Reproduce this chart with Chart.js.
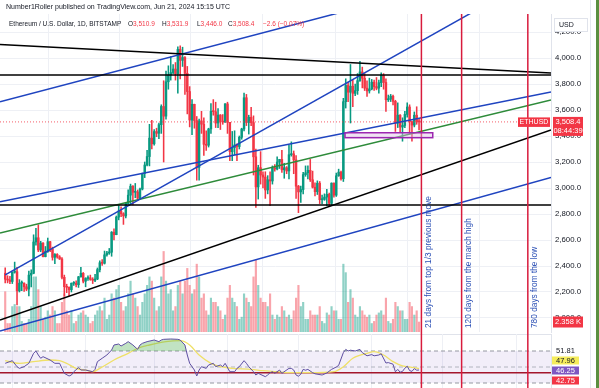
<!DOCTYPE html>
<html>
<head>
<meta charset="utf-8">
<script src="https://cdn.jsdelivr.net/npm/chart.js"></script>
<style>
html,body{margin:0;padding:0;background:#fff;overflow:hidden;}
#wrap{position:relative;width:599px;height:388px;background:#fff;}
#main{position:absolute;left:0;top:0;}
#rsi{position:absolute;left:0;top:334px;}
#rline{position:absolute;left:590px;top:0;width:1px;height:388px;background:#e6e8ee;}
#edge{position:absolute;left:596px;top:0;width:3px;height:388px;background:#5b8f3f;}
</style>
</head>
<body>
<div id="wrap">
<canvas id="main" width="599" height="334"></canvas>
<canvas id="rsi" width="599" height="54"></canvas>
<div id="rline"></div><div id="edge"></div>
</div>
<script>
// ===== DATA (day 0 = Jan 1, 2024; first candle = Dec 29, 2023) =====
const firstDay = -3;
const opens = [
2345,2298,2292,2281,2352,2356,2209,2268,2268,2240,
2222,2330,2344,2585,2617,2523,2576,2472,2512,2587,
2530,2467,2489,2470,2454,2313,2241,2236,2218,2267,
2268,2256,2317,2344,2283,2304,2309,2296,2290,2300,
2372,2425,2421,2486,2500,2506,2660,2641,2776,2823,
2802,2785,2881,2945,3014,2967,2970,2922,2992,3113,
3177,3242,3384,3340,3434,3421,3487,3627,3553,3817,
3869,3888,3915,3879,4066,3982,4004,3882,3742,3523,
3644,3519,3158,3516,3491,3336,3329,3454,3590,3587,
3500,3561,3512,3507,3647,3505,3279,3311,3331,3319,
3390,3454,3694,3504,3544,3503,3240,3008,3156,3100,
3084,2985,3063,3054,3156,3146,3200,3220,3140,3156,
3131,3256,3263,3216,3014,2970,2988,3103,3117,3136,
3063,3006,2972,3037,2910,2912,2930,2951,2882,3037,
2945,3094,3122,3071,3664,3789,3737,3783,3728,3749,
3826,3893,3844,3768,3747,3762,3814,3780,3768,3810,
3866,3812,3679,3683,3706,3667,3499,3560,3469,3481,
3566,3623,3510,3484,3560,3510.9];
const highs = [
2385,2325,2320,2355,2430,2390,2295,2285,2270,2260,
2360,2370,2640,2690,2717,2590,2580,2550,2615,2590,
2545,2495,2495,2480,2465,2330,2260,2240,2270,2280,
2285,2320,2390,2350,2310,2325,2330,2310,2335,2385,
2440,2450,2515,2512,2535,2665,2685,2785,2865,2855,
2810,2890,2985,3030,3018,3035,2985,3000,3115,3200,
3290,3490,3520,3450,3460,3500,3640,3825,3900,3940,
4010,3950,3965,4085,4093,4083,4010,3935,3780,3680,
3645,3550,3530,3590,3540,3440,3460,3650,3680,3660,
3610,3565,3565,3650,3660,3505,3435,3440,3340,3400,
3460,3730,3720,3560,3620,3555,3300,3175,3280,3125,
3125,3095,3125,3170,3180,3240,3220,3290,3190,3165,
3330,3355,3285,3250,3020,3015,3120,3170,3170,3220,
3130,3040,3055,3050,2945,2955,2990,2960,3040,3040,
3115,3145,3130,3690,3840,3815,3950,3830,3800,3880,
3975,3930,3880,3825,3845,3835,3830,3850,3830,3885,
3880,3840,3715,3720,3715,3675,3655,3565,3540,3590,
3655,3640,3515,3585,3625,3531.9];
const lows = [
2270,2270,2265,2265,2345,2100,2200,2210,2205,2210,
2170,2240,2340,2560,2510,2510,2470,2470,2505,2510,
2445,2418,2460,2450,2300,2168,2195,2170,2200,2250,
2240,2235,2315,2270,2240,2290,2290,2265,2280,2295,
2355,2405,2415,2475,2490,2475,2600,2640,2755,2780,
2720,2770,2875,2880,2870,2925,2905,2915,2985,3080,
3170,3170,3300,3330,3395,3380,3420,3200,3530,3760,
3830,3880,3830,3730,3840,3935,3720,3570,3470,3410,
3460,3060,3060,3420,3250,3290,3315,3420,3560,3465,
3465,3450,3490,3505,3420,3210,3210,3255,3210,3300,
3375,3440,3480,3415,3480,3100,2850,2915,3030,3000,
2920,2955,2865,3030,3130,3140,3150,3120,3075,3110,
3070,3245,3110,2920,2810,2890,2955,3090,3070,3050,
3000,2940,2950,2880,2880,2905,2865,2860,2865,2930,
2935,3090,3060,3050,3615,3665,3500,3625,3710,3720,
3820,3770,3750,3705,3730,3755,3750,3755,3730,3780,
3760,3590,3665,3665,3640,3435,3465,3430,3360,3465,
3545,3420,3360,3470,3490,3446.0];
const closes = [
2298,2292,2281,2352,2356,2209,2268,2268,2240,2222,
2330,2344,2585,2617,2523,2576,2472,2512,2587,2530,
2467,2489,2470,2454,2313,2241,2236,2218,2267,2268,
2256,2317,2344,2283,2304,2309,2296,2290,2300,2372,
2425,2421,2486,2500,2506,2660,2641,2776,2823,2802,
2785,2881,2945,3014,2967,2970,2922,2992,3113,3177,
3242,3384,3340,3434,3421,3487,3627,3553,3817,3869,
3888,3915,3879,4066,3982,4004,3882,3742,3523,3644,
3519,3158,3516,3491,3336,3329,3454,3590,3587,3500,
3561,3512,3507,3647,3505,3279,3311,3331,3319,3390,
3454,3694,3504,3544,3503,3240,3008,3156,3100,3084,
2985,3063,3054,3156,3146,3200,3220,3140,3156,3131,
3256,3263,3216,3014,2970,2988,3103,3117,3136,3063,
3006,2972,3037,2910,2912,2930,2951,2882,3037,2945,
3094,3122,3071,3664,3789,3737,3783,3728,3749,3826,
3893,3844,3768,3747,3762,3814,3780,3768,3810,3866,
3812,3679,3683,3706,3667,3499,3560,3469,3481,3566,
3623,3510,3484,3560,3511,3508.4];
const volumesK = [
9.5,2,2,6,6.5,6,6,2.5,2,2,
3,6,13,13,10,6,3,3.5,5,4,
6,5,2,2,7,9,5,4,5,2,
2.5,4,4.5,5,4,3.5,2,2.5,4,5,
6,5,8,3,4,9,8,10,11,7,
5,6,9,12,9,8,6,4,7,9,
11,13,12,8,5,6,13,19,12,9,
10,5,6,11,12,9,12,15,11,9,
10,16,13,8,9,5,4,8,7,7,
6,5,3,4,8,11,8,7,6,3,
3.5,9,8,7,6,13,17,11,8,7,
7,6,9,4,3,4,3.5,6,5,3.5,
4,3,5,8,11,6,7,3,3,5,
4,4,4,6,2.5,2,4.5,4,6,5,
5,3,3,16,14,7,10,8,4,3.5,
6,5,4,3.5,4,2,2.5,4,4.5,5,
4,8,2.5,2,3,7,6,5,5,3,
3,7,6,4,5,2.358];
const monthStartDays = [0,31,60,91,121,152,182,213];

// RSI readings (day, value) and its moving average
const rsiDays = [-3,0,2,3,5,7,9,10,11,12,13,16,18,20,21,22,24,25,26,28,29,31,34,35,36,38,40,42,43,45,46,48,49,51,53,54,55,57,60,62,63,64,67,70,71,73,74,75,77,78,79,80,82,83,85,86,88,89,90,92,94,95,96,98,99,100,102,103,104,107,108,109,110,111,113,114,117,118,119,120,121,122,123,124,125,127,128,131,133,135,137,138,140,141,142,143,145,147,148,150,152,153,155,156,158,159,161,162,163,164,165,166,167,168,169,170,171,172];
const rsiValues = [54.6,57.9,50.4,48.3,50.4,54.6,67.1,70,65,60.9,62.9,58.75,54.6,54.6,48.3,42.1,38.75,40,44.1,49.2,46.25,46.25,44.1,47.1,56.7,60.9,65,71.25,77.5,78.75,76.25,79.6,81.7,77.5,72.1,77.5,79.6,81.7,83.75,81.7,83.75,84.6,85,84.6,83.75,77.5,65,54.6,46.25,38.75,46.25,50.4,48.3,52.5,54.6,50.4,52.5,50.4,54.6,44.1,44.1,48.3,50.4,57.9,54.6,50.4,44.1,40,42.1,37.9,40,42.9,44.1,42.1,46.25,42.1,48.3,48.3,46.25,40,38.5,41,47,46,47,42.9,41.5,40,42.5,47,50,52,68,72,70,71,70,72,68,64,65.5,64,65,66.5,55,55.5,53.5,44,47,43.5,44.5,48.5,51,45.5,44.5,48,46,46.25];
const rsiMaDays = [-3,3,9,16,20,23,27,32,34,37,43,49,53,58,65,71,75,79,84,88,93,101,106,112,117,126,136,140,144,150,153,157,161,165,169,172];
const rsiMaValues = [57.9,54.6,56.7,58.75,57.9,54.6,48.3,45.4,44.1,48.3,58.75,67.1,73.3,77.5,81.7,82.9,77.5,65,54.6,50.4,48.3,47.1,45.4,44.1,42.9,42.9,44.1,50.4,60.9,67.1,69.1,65,56.7,51.3,49.6,47.96];
const rsiBands = [70, 50, 30];
const rsiAlertLevel = 42.75;
const rsiScaleLabels = ['51.81','47.96','46.25','42.75'];

// Drawings (anchor points as [day, price])
const resistanceLine = [[-5.2,4104],[227.8,3884]];
const upperLevel = 3869;
const lowerLevel = 2869;
const blueUpperLine = [[-5.2,3664],[227.8,4775]];
const blueChannelLine = [[-5.2,2894],[227.8,3738]];
const blueSteepLine = [[-3,2331],[194,4346]];
const greenLine = [[-5.2,2654],[227.8,3677]];
const blackSupportLine = [[-5.2,1985],[227.8,3446]];
const blueLowerLine = [[-5.2,1900],[227.8,3081]];
const zoneBox = {from:140.7, to:177.8, low:3387, high:3425};
const markerDays = [173, 190, 218];
const markerLabels = ['21 days from top 1/3 previous move','120 days from the march high','780 days from the low'];

const quote = {o:3510.9, h:3531.9, l:3446.0, c:3508.4, chg:'\u22122.6 (\u22120.07%)', vol:'2.358 K', timer:'08:44:39'};
const titleLine = 'Number1Roller published on TradingView.com, Jun 21, 2024 15:15 UTC';
const symbolLine = 'Ethereum / U.S. Dollar, 1D, BITSTAMP';

// ===== LAYOUT / STYLE =====
const XMIN = -5.2, XMAX = 227.8;
const PMIN = 1892.3, PMAX = 4338.5;
const FONT = '"Liberation Sans", Arial, sans-serif';
const UP = '#089981', DOWN = '#f23645';
const BLUE = '#1f44c0', GREEN = '#2e8b3a', MARK = '#d81b3c';
Chart.defaults.font.family = FONT;

const fmt = v => v.toLocaleString('en-US',{minimumFractionDigits:1,maximumFractionDigits:1});
const days = closes.map((_,k)=>firstDay+k);
const isUp = closes.map((c,k)=>c>=opens[k]);
const pts = a => a.map(p=>({x:p[0],y:p[1]}));
const lineDS = (data,color,extra={}) => Object.assign({type:'line',data,borderColor:color,borderWidth:1.5,pointRadius:0,fill:false,tension:0,order:1,yAxisID:'y'},extra);
const noPad = s => {s.paddingTop=0;s.paddingBottom=0;s.paddingLeft=0;s.paddingRight=0;};

const xScale = () => ({
  type:'linear', min:XMIN, max:XMAX, offset:false,
  grid:{color:'#eef0f5', drawTicks:false},
  border:{display:false}, ticks:{display:false},
  afterBuildTicks:s=>{s.ticks = monthStartDays.map(v=>({value:v}));},
  afterFit:s=>{s.height=0; noPad(s);}
});

const markerDS = (lo,hi,clip) => markerDays.map(d=>lineDS([{x:d,y:lo},{x:d,y:hi}],MARK,{order:0,clip}));

const mainDatasets = [
  {type:'bar', data:days.map((d,k)=>({x:d,y:volumesK[k]})), yAxisID:'yv', backgroundColor:isUp.map(u=>u?'rgba(8,153,129,0.45)':'rgba(242,54,69,0.45)'), barThickness:1.5, grouped:false, order:10},
  {type:'bar', data:days.map((d,k)=>({x:d,y:[lows[k],highs[k]]})), yAxisID:'y', backgroundColor:isUp.map(u=>u?UP:DOWN), barThickness:0.9, grouped:false, order:6},
  {type:'bar', data:days.map((d,k)=>({x:d,y:[opens[k],closes[k]]})), yAxisID:'y', backgroundColor:isUp.map(u=>u?UP:DOWN), barThickness:1.8, minBarLength:1, grouped:false, order:5},
  lineDS([{x:XMIN,y:quote.c},{x:XMAX,y:quote.c}],'rgba(242,54,69,0.8)',{borderWidth:1,borderDash:[1,2],order:4}),
  lineDS(pts(resistanceLine),'#000'),
  lineDS([{x:XMIN,y:upperLevel},{x:XMAX,y:upperLevel}],'#000'),
  lineDS([{x:XMIN,y:lowerLevel},{x:XMAX,y:lowerLevel}],'#000'),
  lineDS(pts(blueUpperLine),BLUE),
  lineDS(pts(blueChannelLine),BLUE),
  lineDS(pts(blueSteepLine),BLUE),
  lineDS(pts(greenLine),GREEN),
  lineDS(pts(blackSupportLine),'#000'),
  lineDS(pts(blueLowerLine),BLUE),
  ...markerDS(PMIN-500,PMAX+500,{left:0,top:0,right:0,bottom:2})
];

function runs(ctx,x,y,list){list.forEach(([t,c])=>{ctx.fillStyle=c;ctx.fillText(t,x,y);x+=ctx.measureText(t).width;});}

const mainOverlay = {
  id:'mainOverlay',
  afterDatasetsDraw(chart){
    const {ctx, chartArea:a, scales:{x,y}} = chart;
    ctx.save();
    const bx0=x.getPixelForValue(zoneBox.from), bx1=x.getPixelForValue(zoneBox.to);
    const by0=y.getPixelForValue(zoneBox.high), by1=y.getPixelForValue(zoneBox.low);
    ctx.fillStyle='rgba(225,190,231,0.45)'; ctx.fillRect(bx0,by0,bx1-bx0,by1-by0);
    ctx.strokeStyle='#9c27b0'; ctx.lineWidth=1.5; ctx.strokeRect(bx0,by0,bx1-bx0,by1-by0);
    ctx.fillStyle='#2a4fb5'; ctx.font='8.3px '+FONT;
    markerDays.forEach((d,k)=>{
      const px=x.getPixelForValue(d);
      ctx.save(); ctx.translate(px+7, a.bottom-4); ctx.rotate(-Math.PI/2);
      ctx.textAlign='left'; ctx.textBaseline='middle'; ctx.fillText(markerLabels[k],0,0); ctx.restore();
    });
    ctx.restore();
  },
  afterDraw(chart){
    const {ctx, chartArea:a, scales:{y,yv}} = chart;
    ctx.save();
    ctx.textBaseline='middle'; ctx.textAlign='left';
    ctx.font='7px '+FONT; ctx.fillStyle='#131722'; ctx.fillText(titleLine,6,7);
    ctx.font='6.5px '+FONT; ctx.fillStyle='#131722'; ctx.fillText(symbolLine,9,24);
    const ohlc=[['O',quote.o,128],['H',quote.h,162],['L',quote.l,197],['C',quote.c,228]];
    ohlc.forEach(([k,v,px])=>runs(ctx,px,24,[[k,'#131722'],[fmt(v),DOWN]]));
    ctx.fillStyle=DOWN; ctx.fillText(quote.chg,263,24);
    ctx.fillStyle='#fff'; ctx.fillRect(554,18,34,13);
    ctx.strokeStyle='#e0e3eb'; ctx.lineWidth=1; ctx.strokeRect(554.5,18.5,33,13);
    ctx.fillStyle='#131722'; ctx.font='7px '+FONT; ctx.fillText('USD',559,25);
    const py=y.getPixelForValue(quote.c);
    ctx.fillStyle=DOWN; ctx.fillRect(a.right-33,py-4.5,32,9.5);
    ctx.fillStyle='#fff'; ctx.font='7px '+FONT; ctx.textAlign='center'; ctx.fillText('ETHUSD',a.right-17,py+0.3);
    ctx.fillStyle=DOWN; ctx.fillRect(a.right+2,py-5,30,19);
    ctx.fillStyle='#fff'; ctx.font='7.5px '+FONT; ctx.fillText(fmt(quote.c),a.right+17,py); ctx.fillText(quote.timer,a.right+17,py+9);
    const vy=yv.getPixelForValue(volumesK[volumesK.length-1]);
    ctx.fillStyle=DOWN; ctx.fillRect(a.right+2,vy-5.5,30,11);
    ctx.fillStyle='#fff'; ctx.fillText(quote.vol,a.right+17,vy);
    ctx.restore();
  }
};

new Chart(document.getElementById('main'),{
  type:'bar',
  data:{datasets:mainDatasets},
  options:{
    responsive:false, animation:false, devicePixelRatio:1,
    layout:{padding:{top:14,bottom:2,left:0,right:0}},
    plugins:{legend:{display:false},tooltip:{enabled:false}},
    scales:{
      x:xScale(),
      y:{type:'linear',position:'right',min:PMIN,max:PMAX,
         grid:{color:'#eef0f5',drawTicks:false}, border:{color:'#e0e3eb'},
         ticks:{stepSize:200,includeBounds:false,padding:4,color:'#131722',font:{size:7.8,family:FONT},callback:v=>fmt(v)},
         afterFit:s=>{s.width=48; noPad(s);}},
      yv:{type:'linear',display:false,min:0,max:75,afterFit:noPad}
    }
  },
  plugins:[mainOverlay]
});

// ===== RSI pane =====
const rsiOverlay = {
  id:'rsiOverlay',
  beforeDraw(chart){
    const {ctx}=chart; ctx.save(); ctx.fillStyle='#e0e3eb'; ctx.fillRect(0,0,551,1); ctx.restore();
  },
  afterDraw(chart){
    const {ctx, chartArea:a} = chart;
    ctx.save(); ctx.font='7.5px '+FONT; ctx.textAlign='center'; ctx.textBaseline='middle';
    const styles=[['#ffffff','#131722',17],['#f5ec5b','#131722',26.5],['#7e57c2','#ffffff',36.5],['#f23645','#ffffff',46.5]];
    rsiScaleLabels.forEach((t,k)=>{
      const [bg,fg,cy]=styles[k];
      ctx.fillStyle=bg; ctx.fillRect(a.right+1,cy-4,27,8);
      ctx.fillStyle=fg; ctx.fillText(t,a.right+14.5,cy+0.3);
    });
    ctx.restore();
  }
};

const flat = v => [{x:XMIN,y:v},{x:XMAX,y:v}];
new Chart(document.getElementById('rsi'),{
  type:'line',
  data:{datasets:[
    {data:rsiDays.map((d,k)=>({x:d,y:rsiValues[k]})), borderColor:'#5e4fa2', borderWidth:1, pointRadius:0, tension:0,
     fill:{value:70, above:'rgba(76,175,80,0.35)', below:'rgba(0,0,0,0)'}, order:1},
    {data:rsiMaDays.map((d,k)=>({x:d,y:rsiMaValues[k]})), borderColor:'#efe067', borderWidth:1.3, pointRadius:0, cubicInterpolationMode:'monotone', fill:false, order:2},
    {data:flat(rsiBands[0]), borderColor:'#9598a1', borderWidth:1, borderDash:[4,3], pointRadius:0, fill:false, order:5},
    {data:flat(rsiBands[1]), borderColor:'#b2b5be', borderWidth:1, borderDash:[4,3], pointRadius:0, fill:false, order:5},
    {data:flat(rsiBands[2]), borderColor:'#9598a1', borderWidth:1, borderDash:[4,3], pointRadius:0, fill:{value:70}, backgroundColor:'rgba(126,87,194,0.1)', order:6},
    {data:flat(rsiAlertLevel), borderColor:'#a3172c', borderWidth:1.5, pointRadius:0, fill:false, order:3},
    ...markerDays.map(d=>({data:[{x:d,y:0},{x:d,y:100}], borderColor:MARK, borderWidth:1.5, pointRadius:0, fill:false, order:0}))
  ]},
  options:{
    responsive:false, animation:false, devicePixelRatio:1,
    layout:{padding:0},
    plugins:{legend:{display:false},tooltip:{enabled:false}},
    scales:{
      x:xScale(),
      y:{type:'linear',position:'right',min:23.75,max:91.25,grid:{display:false},border:{color:'#e0e3eb'},ticks:{display:false},afterFit:s=>{s.width=48; noPad(s);}}
    }
  },
  plugins:[rsiOverlay]
});
</script>
</body>
</html>
